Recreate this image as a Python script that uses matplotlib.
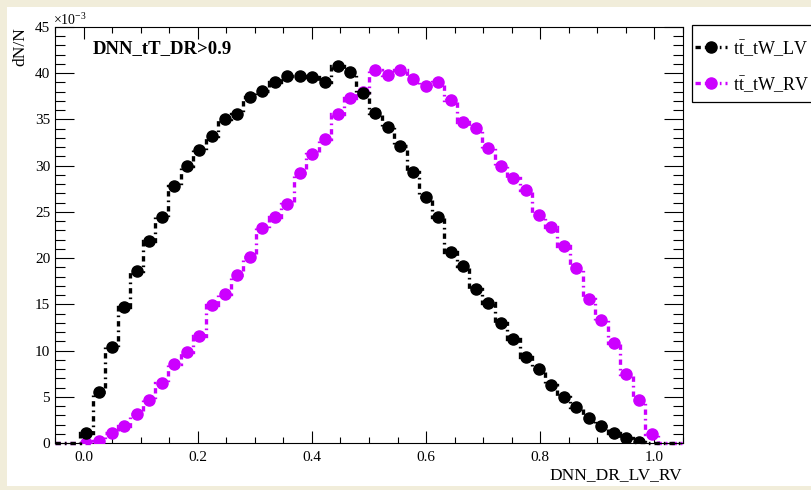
import matplotlib.pyplot as plt
import matplotlib.ticker as ticker
from matplotlib.lines import Line2D
from matplotlib.patches import Rectangle
import numpy as np

plt.rcParams['font.family'] = ['Liberation Serif', 'DejaVu Serif']
plt.rcParams['mathtext.fontset'] = 'custom'
plt.rcParams['mathtext.rm'] = 'Liberation Serif'
plt.rcParams['mathtext.it'] = 'Liberation Serif:italic'

# histogram binning: 50 bins from -0.05 to 1.05
x_lo, x_hi, n_bins = -0.05, 1.05, 50

# dN/N per bin, in units of 1e-3
tW_LV = [0, 0, 1.1, 5.5, 10.4, 14.7, 18.6, 21.9, 24.5, 27.8,
         30.0, 31.7, 33.2, 35.0, 35.6, 37.4, 38.1, 39.0, 39.7, 39.7,
         39.6, 39.1, 40.8, 40.1, 37.9, 35.7, 34.2, 32.1, 29.3, 26.6,
         24.4, 20.7, 19.1, 16.7, 15.1, 13.0, 11.3, 9.3, 8.0, 6.3,
         4.95, 3.9, 2.7, 1.8, 1.1, 0.5, 0.15, 0, 0, 0]
tW_RV = [0, 0, 0.05, 0.25, 1.1, 1.85, 3.1, 4.6, 6.5, 8.5,
         9.8, 11.6, 14.9, 16.1, 18.2, 20.1, 23.3, 24.4, 25.9, 29.2,
         31.3, 32.9, 35.6, 37.3, 38.0, 40.3, 39.8, 40.4, 39.4, 38.6,
         39.0, 37.1, 34.7, 34.1, 31.9, 30.0, 28.7, 27.4, 24.7, 23.4,
         21.3, 18.9, 15.6, 13.3, 10.8, 7.5, 4.6, 1.0, 0, 0]

labels = [r'$\mathrm{t\bar{t}}$_tW_LV', r'$\mathrm{t\bar{t}}$_tW_RV']
colors = ['black', '#cc00ff']

edges = np.linspace(x_lo, x_hi, n_bins + 1)
centers = 0.5 * (edges[1:] + edges[:-1])

W, H = 812, 490
fig = plt.figure(figsize=(W / 100, H / 100), dpi=100, facecolor='#f1edda')
fig.add_artist(Rectangle((7 / W, 1 - 486 / H), 1, (486 - 7) / H,
                         transform=fig.transFigure, facecolor='white',
                         edgecolor='none', zorder=-10))

ax = fig.add_axes([55 / W, 1 - 443 / H, (683 - 55) / W, (443 - 27) / H])

dash = (0, (1.6, 1.2, 0.5, 1.2))
lw, ms = 2.4, 8

# magenta first, black is drawn on top; empty bins get no marker
for vals, c, z in [(tW_RV, colors[1], 2), (tW_LV, colors[0], 4)]:
    v = np.array(vals, dtype=float)
    ax.stairs(v, edges, color=c, lw=lw, linestyle=dash, baseline=None,
              zorder=z, clip_on=False)
    ax.plot(centers, np.where(v > 0, v, np.nan), 'o', color=c, ms=ms, zorder=z + 1)

ax.set_xlim(x_lo, x_hi)
ax.set_ylim(0, 45)

ax.xaxis.set_major_locator(ticker.MultipleLocator(0.2))
ax.xaxis.set_minor_locator(ticker.MultipleLocator(0.05))
ax.xaxis.set_major_formatter(ticker.FormatStrFormatter('%.1f'))
ax.yaxis.set_major_locator(ticker.MultipleLocator(5))
ax.yaxis.set_minor_locator(ticker.MultipleLocator(1))

ax.tick_params(which='both', direction='in', top=True, right=True, width=0.8,
               labelsize=11)
ax.xaxis.set_tick_params(which='major', length=8.6, pad=5.5)
ax.xaxis.set_tick_params(which='minor', length=4.3)
ax.yaxis.set_tick_params(which='major', length=14, pad=3.5)
ax.yaxis.set_tick_params(which='minor', length=7)
for s in ax.spines.values():
    s.set_linewidth(0.8)

fig.text(93 / W, 1 - 49 / H, 'DNN_tT_DR>0.9', fontweight='bold', fontsize=13.5,
         va='center')
fig.text(20 / W, 1 - 27 / H, 'dN/N', rotation=90, ha='center', va='top', fontsize=12.5)
fig.text(682 / W, 1 - 475 / H, 'DNN_DR_LV_RV', ha='right', va='center', fontsize=12.5)
fig.text(53 / W, 1 - 20 / H, r'$\times10^{-3}$', fontsize=10, va='center')

# legend box runs past the right edge of the picture
fig.add_artist(Rectangle((692 / W, 1 - 102 / H), 0.2, 77 / H,
                         transform=fig.transFigure, facecolor='white',
                         edgecolor='black', lw=0.9, zorder=5))
handles = [Line2D([], [], color=c, lw=lw, linestyle=dash, marker='o', ms=ms)
           for c in colors]
leg = fig.legend(handles, labels, loc='upper left',
                 bbox_to_anchor=(695 / W, 1 - 38 / H), fontsize=13,
                 frameon=False, borderaxespad=0, borderpad=0,
                 handlelength=1.75, handletextpad=0.35, labelspacing=0.9)
leg.set_zorder(6)

fig.savefig('out.png', dpi=100, facecolor=fig.get_facecolor())
